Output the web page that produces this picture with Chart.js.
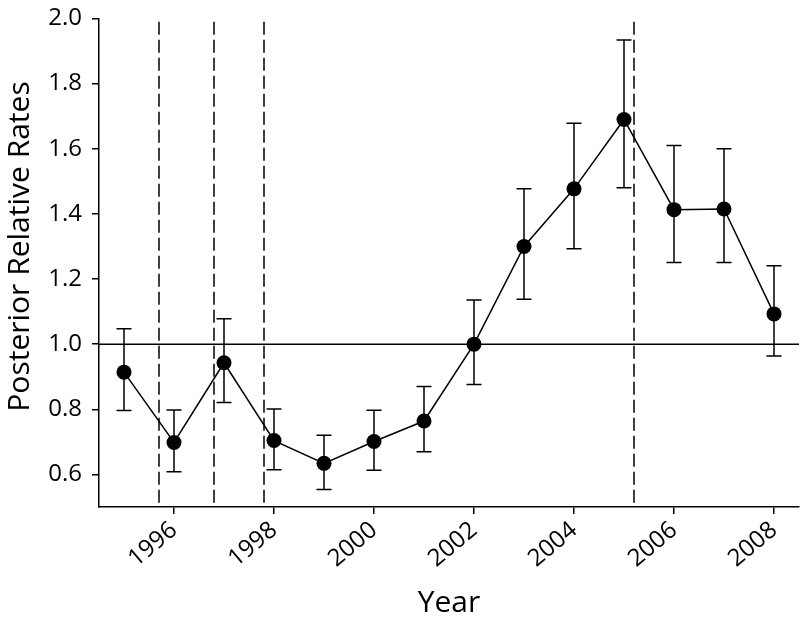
<!DOCTYPE html>
<html>
<head>
<meta charset="utf-8">
<script src="https://cdn.jsdelivr.net/npm/chart.js@4/dist/chart.umd.min.js"></script>
<style>
  html, body { margin: 0; padding: 0; background: #fff; }
  #wrap { width: 801px; height: 623px; }
</style>
</head>
<body>
<div id="wrap"><canvas id="chart"></canvas></div>
<script>
// Nilai dibaca dari gambar referensi
const years = [1995, 1996, 1997, 1998, 1999, 2000, 2001, 2002, 2003, 2004, 2005, 2006, 2007, 2008];
const rates = [0.914, 0.698, 0.943, 0.704, 0.634, 0.701, 0.764, 1.0, 1.300, 1.477, 1.690, 1.413, 1.415, 1.093];
const upper = [1.047, 0.798, 1.078, 0.801, 0.720, 0.797, 0.870, 1.136, 1.477, 1.678, 1.934, 1.610, 1.600, 1.241];
const lower = [0.796, 0.608, 0.821, 0.614, 0.554, 0.613, 0.670, 0.876, 1.138, 1.293, 1.480, 1.251, 1.251, 0.964];
const changePoints = [1995.7, 1996.8, 1997.8, 2005.2];
const xTicks = [1996, 1998, 2000, 2002, 2004, 2006, 2008];
const yTicks = [0.6, 0.8, 1.0, 1.2, 1.4, 1.6, 1.8, 2.0];
const baseline = 1.0;
const yTitle = "Posterior Relative Rates";

const FONT = "'Open Sans', 'DejaVu Sans', sans-serif";

// garis referensi: horizontal di 1.0 dan garis putus-putus titik perubahan
const refLines = {
  id: "refLines",
  beforeDatasetsDraw(chart) {
    const { ctx, chartArea, scales: { x, y } } = chart;
    ctx.save();
    ctx.strokeStyle = "#000";
    ctx.lineWidth = 1.5;

    const by = y.getPixelForValue(baseline);
    ctx.beginPath();
    ctx.moveTo(chartArea.left, by);
    ctx.lineTo(chartArea.right, by);
    ctx.stroke();

    ctx.setLineDash([13, 5]);
    changePoints.forEach((cp) => {
      const px = x.getPixelForValue(cp);
      ctx.beginPath();
      ctx.moveTo(px, y.getPixelForValue(1.99));
      ctx.lineTo(px, chartArea.bottom);
      ctx.stroke();
    });
    ctx.restore();
  },
};

const errorBars = {
  id: "errorBars",
  beforeDatasetsDraw(chart) {
    const { ctx, scales: { x, y } } = chart;
    ctx.save();
    ctx.strokeStyle = "#000";
    ctx.lineWidth = 1.5;
    years.forEach((yr, i) => {
      const px = x.getPixelForValue(yr);
      const top = y.getPixelForValue(upper[i]);
      const bot = y.getPixelForValue(lower[i]);
      ctx.beginPath();
      ctx.moveTo(px, top);
      ctx.lineTo(px, bot);
      ctx.moveTo(px - 7.5, top);
      ctx.lineTo(px + 7.5, top);
      ctx.moveTo(px - 7.5, bot);
      ctx.lineTo(px + 7.5, bot);
      ctx.stroke();
    });
    ctx.restore();
  },
};

// judul sumbu Y digambar manual supaya posisinya sama dengan referensi
const yAxisTitle = {
  id: "yAxisTitle",
  afterDraw(chart) {
    const { ctx } = chart;
    ctx.save();
    ctx.translate(28.5, 246.5);
    ctx.rotate(-Math.PI / 2);
    ctx.fillStyle = "#000";
    ctx.font = "30px " + FONT;
    ctx.textAlign = "center";
    ctx.textBaseline = "alphabetic";
    ctx.fillText(yTitle, 0, 0);
    ctx.restore();
  },
};

new Chart(document.getElementById("chart").getContext("2d"), {
  type: "line",
  data: {
    datasets: [
      {
        data: years.map((yr, i) => ({ x: yr, y: rates[i] })),
        borderColor: "#000",
        backgroundColor: "#000",
        borderWidth: 1.5,
        pointRadius: 7.5,
        pointBorderWidth: 0,
        pointBackgroundColor: "#000",
        tension: 0,
      },
    ],
  },
  options: {
    responsive: true,
    maintainAspectRatio: false,
    animation: false,
    layout: { autoPadding: false, padding: { top: 18.5, right: 2, left: 0, bottom: 0 } },
    plugins: {
      legend: { display: false },
      tooltip: { enabled: false },
    },
    scales: {
      x: {
        type: "linear",
        min: 1994.5,
        max: 2008.5,
        afterBuildTicks: (scale) => {
          scale.ticks = xTicks.map((v) => ({ value: v }));
        },
        afterFit: (scale) => {
          scale.height = 116;
          scale.paddingLeft = 0;
          scale.paddingRight = 0;
        },
        ticks: {
          color: "#000",
          minRotation: 40,
          maxRotation: 40,
          padding: 2,
          font: { family: FONT, size: 24 },
          callback: (v) => String(v),
        },
        grid: { display: true, drawOnChartArea: false, drawTicks: true, tickLength: 7, color: "#000", lineWidth: 1.5 },
        border: { display: true, color: "#000", width: 1.5 },
        title: {
          display: true,
          text: "Year",
          color: "#000",
          font: { family: FONT, size: 30 },
          padding: { top: 0, bottom: 2 },
        },
      },
      y: {
        min: 0.5,
        max: 2.0,
        afterBuildTicks: (scale) => {
          scale.ticks = yTicks.map((v) => ({ value: v }));
        },
        afterFit: (scale) => {
          scale.width = 99;
          scale.paddingTop = 0;
          scale.paddingBottom = 0;
        },
        ticks: {
          color: "#000",
          padding: 10,
          font: { family: FONT, size: 24 },
          callback: (v) => v.toFixed(1),
        },
        grid: { display: true, drawOnChartArea: false, drawTicks: true, tickLength: 7, color: "#000", lineWidth: 1.5 },
        border: { display: true, color: "#000", width: 1.5 },
      },
    },
  },
  plugins: [refLines, errorBars, yAxisTitle],
});
</script>
</body>
</html>
